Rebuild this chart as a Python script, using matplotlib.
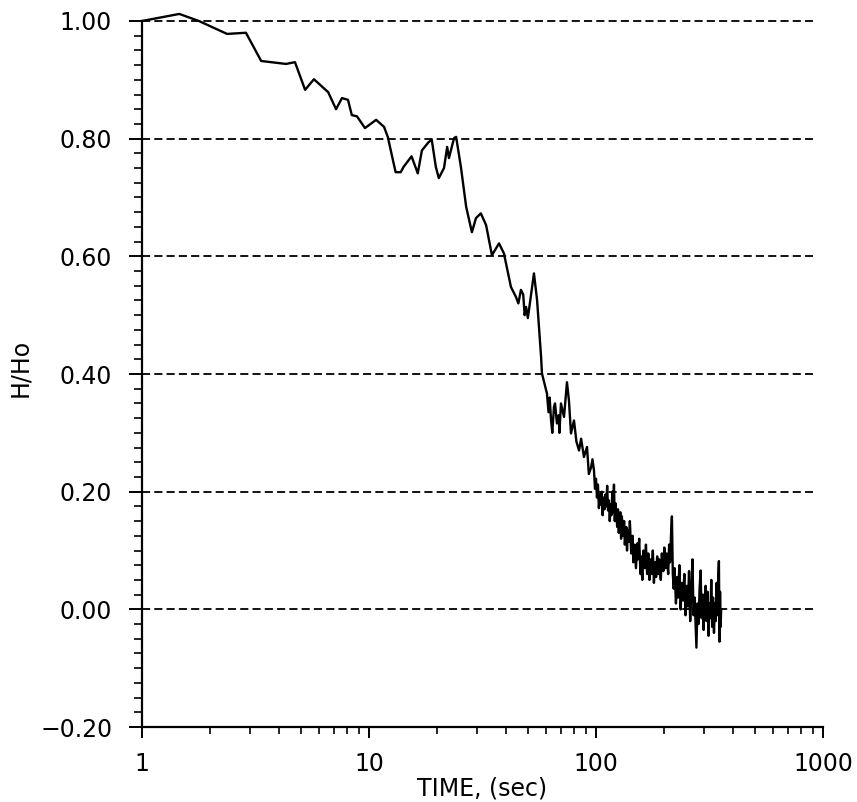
import numpy as np
import matplotlib
matplotlib.use("Agg")
from matplotlib import pyplot as plt
from matplotlib.ticker import FixedLocator, MultipleLocator, NullFormatter

# H/Ho decay record
time_early = [1.00, 1.46, 1.78, 2.37, 2.87, 3.35, 4.31, 4.72, 5.23, 5.72,
              6.61, 7.16, 7.60, 8.08, 8.40, 8.85, 9.60, 10.75, 11.65, 12.1,
              13.1, 13.8, 14.2, 15.4, 16.4, 17.1, 18.3, 18.9, 19.7, 20.3,
              21.4, 22.1, 22.5, 23.7, 24.2, 25.4, 26.8, 28.4, 29.6, 31.1,
              32.8, 34.8, 37.4, 39.3, 42.2, 44.4, 45.5, 46.7, 47.8, 48.5,
              49.2, 50.1, 53.3, 55.0, 57.3]
h_early = [1.000, 1.012, 1.000, 0.978, 0.980, 0.932, 0.927, 0.930, 0.883, 0.901,
           0.879, 0.850, 0.869, 0.866, 0.840, 0.838, 0.818, 0.832, 0.820, 0.803,
           0.743, 0.743, 0.752, 0.770, 0.741, 0.780, 0.794, 0.798, 0.752, 0.733,
           0.750, 0.786, 0.767, 0.801, 0.803, 0.752, 0.684, 0.641, 0.665, 0.673,
           0.653, 0.602, 0.622, 0.605, 0.548, 0.531, 0.520, 0.543, 0.535, 0.500,
           0.514, 0.495, 0.571, 0.526, 0.429]

time_mid = [57.8, 60.8, 61.8, 62.5, 63.4, 64.2, 65.3, 66.0, 67.3, 68.5,
            69.0, 70.1, 72.3, 74.5, 76.0, 77.6, 80.0, 82.0, 84.2, 86.0,
            88.5, 91.3, 93.0, 95.1, 96.5]
h_mid = [0.401, 0.367, 0.335, 0.360, 0.321, 0.300, 0.344, 0.350, 0.316, 0.330,
         0.300, 0.350, 0.327, 0.386, 0.355, 0.299, 0.321, 0.285, 0.270, 0.290,
         0.259, 0.276, 0.230, 0.241, 0.255]

time_tail = [98, 99, 100, 101, 102, 103, 104, 105, 106, 107,
             108, 109, 110, 111, 112, 113, 114, 115, 116, 117,
             118, 119, 120, 121, 122, 124, 125, 126, 128, 129,
             130, 132, 133, 134, 136, 137, 138, 140, 141, 143,
             145, 146, 148, 150, 152, 153, 155, 157, 158, 160,
             162, 164, 166, 168, 170, 172, 174, 176, 178, 180,
             182, 184, 186, 188, 190, 193, 195, 198, 200, 203,
             205, 208, 210, 212, 214, 216, 218, 220, 222, 225,
             228, 230, 233, 236, 239, 242, 245, 248, 251, 254,
             257, 260, 263, 266, 269, 272, 275, 277, 280, 283,
             286, 289, 292, 295, 298, 301, 304, 307, 310, 313,
             316, 319, 322, 325, 328, 331, 334, 337, 340, 343,
             346, 348, 350, 352, 354, 356]
h_tail = [0.236, 0.205, 0.222, 0.190, 0.212, 0.172, 0.195, 0.178, 0.200, 0.160,
          0.190, 0.170, 0.195, 0.175, 0.210, 0.168, 0.185, 0.150, 0.178, 0.160,
          0.200, 0.165, 0.212, 0.150, 0.180, 0.140, 0.170, 0.130, 0.165, 0.120,
          0.158, 0.125, 0.150, 0.110, 0.140, 0.100, 0.135, 0.115, 0.150, 0.095,
          0.125, 0.080, 0.110, 0.070, 0.112, 0.085, 0.120, 0.060, 0.090, 0.050,
          0.100, 0.070, 0.110, 0.060, 0.095, 0.050, 0.085, 0.060, 0.100, 0.045,
          0.080, 0.055, 0.090, 0.060, 0.085, 0.050, 0.095, 0.065, 0.105, 0.070,
          0.095, 0.060, 0.110, 0.080, 0.125, 0.158, 0.060, 0.035, 0.070, 0.010,
          0.055, 0.020, 0.075, 0.000, 0.045, 0.015, 0.060, -0.010, 0.040, 0.005,
          0.065, -0.020, 0.030, 0.085, -0.010, 0.020, -0.030, -0.065, 0.010, -0.025,
          0.035, 0.066, -0.015, 0.025, -0.035, 0.015, 0.040, -0.020, 0.030, -0.045,
          0.010, -0.015, 0.050, -0.030, 0.020, -0.040, 0.010, -0.020, 0.045, -0.010,
          0.060, 0.082, -0.055, 0.030, -0.030, 0.000]

x_ticks = [1, 10, 100, 1000]
x_tick_labels = ["1", "10", "100", "1000"]
y_ticks = [-0.2, 0.0, 0.2, 0.4, 0.6, 0.8, 1.0]
y_tick_labels = ["\u22120.20", "0.00", "0.20", "0.40", "0.60", "0.80", "1.00"]
ref_levels = [0.0, 0.2, 0.4, 0.6, 0.8, 1.0]


def main():
    plt.rcParams['font.family'] = ['DejaVu Sans']
    fig = plt.figure(figsize=(8.57, 8.02), dpi=100)
    ax = fig.add_axes([0.1657, 0.0935, 0.7946, 0.895])

    t = np.array(time_early + time_mid + time_tail)
    h = np.array(h_early + h_mid + h_tail)

    for lev in ref_levels:
        ax.plot([1, 900], [lev, lev], color='black', lw=1.3,
                dashes=(4.5, 2.3))
    ax.plot(t, h, color='black', lw=1.7, clip_on=False)

    ax.set_xscale('log')
    ax.set_xlim(1, 1000)
    ax.set_ylim(-0.2, 1.02)

    for side in ['top', 'right']:
        ax.spines[side].set_visible(False)
    ax.spines['left'].set_bounds(-0.2, 1.0)
    ax.spines['bottom'].set_bounds(1, 1000)
    for side in ['left', 'bottom']:
        ax.spines[side].set_linewidth(1.6)

    ax.xaxis.set_major_locator(FixedLocator(x_ticks))
    ax.set_xticklabels(x_tick_labels)
    ax.xaxis.set_minor_locator(FixedLocator(
        [m * d for d in (1, 10, 100) for m in range(2, 10)]))
    ax.xaxis.set_minor_formatter(NullFormatter())

    ax.set_yticks(y_ticks)
    ax.set_yticklabels(y_tick_labels)
    ax.yaxis.set_minor_locator(MultipleLocator(0.025))

    ax.tick_params(axis='x', which='major', direction='out', length=8,
                   width=1.4, pad=10, labelsize=17)
    ax.tick_params(axis='x', which='minor', direction='out', length=5,
                   width=1.2)
    ax.tick_params(axis='y', which='major', direction='out', length=9.5,
                   width=1.4, pad=12, labelsize=17)
    ax.tick_params(axis='y', which='minor', direction='out', length=5.8,
                   width=1.2)

    ax.set_xlabel('TIME, (sec)', fontsize=17, labelpad=0)
    ax.set_ylabel('H/Ho', fontsize=17)
    ax.yaxis.set_label_coords(-0.1615, 0.5)

    fig.savefig('out.png', dpi=100)


if __name__ == '__main__':
    main()
